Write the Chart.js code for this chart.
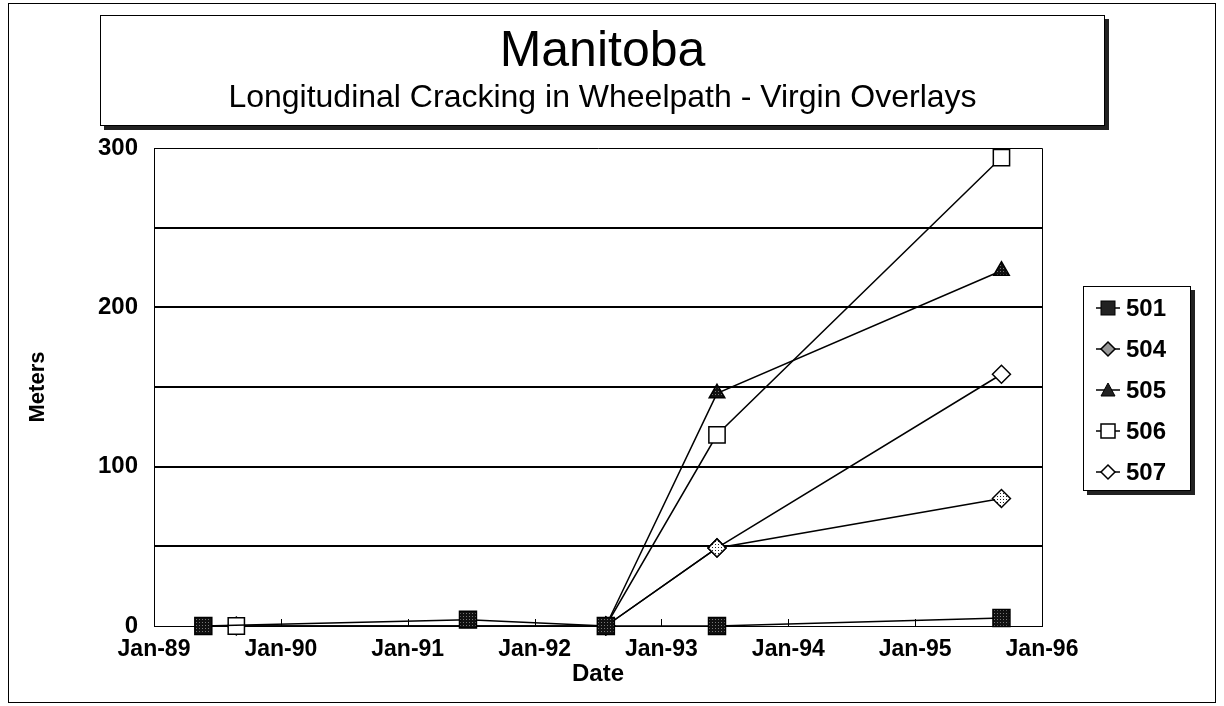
<!DOCTYPE html>
<html>
<head>
<meta charset="utf-8">
<script src="https://cdn.jsdelivr.net/npm/chart.js@4.4.1/dist/chart.umd.min.js"></script>
<style>
  body { margin: 0; background: #fff; font-family: "Liberation Sans", Arial, sans-serif; }
  #page { position: relative; width: 1224px; height: 706px; overflow: hidden; }
  #frame { position: absolute; left: 8px; top: 3px; width: 1208px; height: 700px; border: 1px solid #000; box-sizing: border-box; }
  #titlebox { position: absolute; left: 100px; top: 15px; width: 1005px; height: 111px; border: 1px solid #000;
    box-sizing: border-box; box-shadow: 4px 4px 0 #222; background: #fff; text-align: center; }
  #titlebox .t1 { position: absolute; left: 0; right: 0; top: 5px; font-size: 50px; line-height: 56px; }
  #titlebox .t2 { position: absolute; left: 0; right: 0; top: 62px; font-size: 32px; line-height: 36px; }
  #legend { position: absolute; left: 1083px; top: 286px; width: 108px; height: 205px; border: 1px solid #000;
    box-sizing: border-box; box-shadow: 4px 4px 0 #222; background: #fff; padding-top: 0; }
  #legend .row { height: 41px; display: flex; align-items: center; padding-left: 10px; font-weight: bold; font-size: 24px; }
  #legend svg { margin-right: 4px; }
  canvas { position: absolute; left: 0; top: 0; }
</style>
</head>
<body>
<div id="page">
  <div id="frame"></div>
  <canvas id="mycanvas" width="1224" height="706"></canvas>
  <div id="titlebox">
    <div class="t1">Manitoba</div>
    <div class="t2">Longitudinal Cracking in Wheelpath - Virgin Overlays</div>
  </div>
  <div id="legend"></div>
</div>
<script>
// section ids
var sections = ['501', '504', '505', '506', '507'];

// survey dates and measured meters per section
var dates501 = ['1989-05-23', '1991-06-24', '1992-07-25', '1993-06-10', '1995-09-07'];
var vals501 = [0, 4, 0, 0, 5];
var dates504 = ['1992-07-25', '1993-06-10', '1995-09-07'];
var vals504 = [0, 49, 80];
var dates505 = ['1992-07-25', '1993-06-10', '1995-09-07'];
var vals505 = [0, 146, 223];
var dates506 = ['1989-08-26', '1992-07-25', '1993-06-10', '1995-09-07'];
var vals506 = [0, 0, 120, 294];
var dates507 = ['1989-08-26', '1992-07-25', '1993-06-10', '1995-09-07'];
var vals507 = [0, 0, 49, 158];

var xTickLabels = ['Jan-89', 'Jan-90', 'Jan-91', 'Jan-92', 'Jan-93', 'Jan-94', 'Jan-95', 'Jan-96'];
var yTickLabels = ['0', '100', '200', '300'];

// years since Jan-89
function toX(s) {
  var p = s.split('-');
  var t = Date.UTC(+p[0], +p[1] - 1, +p[2]);
  return (t - Date.UTC(1989, 0, 1)) / (365.25 * 24 * 3600 * 1000);
}
function pts(d, v) {
  var out = [];
  for (var i in d) out.push({x: toX(d[i]), y: v[i]});
  return out;
}

function stipple(bg, fg) {
  var c = document.createElement('canvas');
  c.width = 3; c.height = 3;
  var g = c.getContext('2d');
  g.fillStyle = bg; g.fillRect(0, 0, 3, 3);
  g.fillStyle = fg; g.fillRect(1, 1, 1, 1);
  return g.createPattern(c, 'repeat');
}
var ctx = document.getElementById('mycanvas').getContext('2d');
var darkFill = stipple('#111', '#777');
var greyFill = stipple('#fff', '#222');

var styles = {
  '501': {style: 'rect', r: 12, fill: darkFill},
  '504': {style: 'rectRot', r: 9, fill: greyFill},
  '505': {style: 'triangle', r: 9, fill: darkFill},
  '506': {style: 'rect', r: 11.5, fill: '#fff'},
  '507': {style: 'rectRot', r: 9, fill: '#fff'}
};
var series = {
  '501': pts(dates501, vals501),
  '504': pts(dates504, vals504),
  '505': pts(dates505, vals505),
  '506': pts(dates506, vals506),
  '507': pts(dates507, vals507)
};

var datasets = [];
sections.forEach(function(s) {
  datasets.push({
    label: s,
    data: series[s],
    clip: false,
    borderColor: '#000',
    borderWidth: 1.5,
    pointStyle: styles[s].style,
    pointRadius: styles[s].r,
    pointHoverRadius: styles[s].r,
    pointBackgroundColor: styles[s].fill,
    pointBorderColor: '#000',
    pointBorderWidth: 1.5,
    tension: 0
  });
});

// plot border and small upward ticks on the date axis
var framePlugin = {
  id: 'frame',
  beforeDatasetsDraw: function(chart) {
    var a = chart.chartArea, c = chart.ctx, xs = chart.scales.x;
    c.save();
    c.strokeStyle = '#000';
    c.lineWidth = 1;
    c.beginPath();
    c.moveTo(a.right + 0.5, a.bottom);
    c.lineTo(a.right + 0.5, a.top + 0.5);
    c.lineTo(a.left, a.top + 0.5);
    c.stroke();
    c.beginPath();
    for (var i = 1; i < xTickLabels.length - 1; i++) {
      var px = Math.round(xs.getPixelForValue(i)) + 0.5;
      c.moveTo(px, a.bottom);
      c.lineTo(px, a.bottom - 7);
    }
    c.stroke();
    c.restore();
  }
};

var chart = new Chart(ctx, {
  type: 'line',
  data: {datasets: datasets},
  plugins: [framePlugin],
  options: {
    responsive: false,
    animation: false,
    devicePixelRatio: 1,
    layout: {padding: {left: 25, top: 148, right: 182, bottom: 17}},
    plugins: {legend: {display: false}, tooltip: {enabled: false}},
    scales: {
      x: {
        type: 'linear', min: 0, max: 7,
        afterFit: function(s) { s.height = 63; },
        ticks: {
          stepSize: 1, padding: 10, color: '#000', maxRotation: 0,
          font: {family: 'Liberation Sans', size: 23, weight: 'bold'},
          callback: function(v) { return xTickLabels[v]; }
        },
        grid: {drawOnChartArea: false, drawTicks: false},
        border: {color: '#000', width: 1},
        title: {display: true, text: 'Date', color: '#000', padding: 0,
          font: {family: 'Liberation Sans', size: 24, weight: 'bold'}}
      },
      y: {
        min: 0, max: 300,
        afterFit: function(s) { s.width = 129; },
        ticks: {
          stepSize: 50, padding: 16, color: '#000',
          font: {family: 'Liberation Sans', size: 24, weight: 'bold'},
          callback: function(v) { return v % 100 === 0 ? yTickLabels[v / 100] : ''; }
        },
        grid: {
          color: '#000', drawTicks: false,
          lineWidth: function(c) { return (c.tick && (c.tick.value === 0 || c.tick.value === 300)) ? 0 : 2; }
        },
        border: {color: '#000', width: 1},
        title: {display: true, text: 'Meters', color: '#000', padding: 0,
          font: {family: 'Liberation Sans', size: 22, weight: 'bold'}}
      }
    }
  }
});

// legend
var icons = {
  '501': '<rect x="7" y="2" width="14" height="14" fill="#222" stroke="#000"/>',
  '504': '<path d="M14 2 L21 9 L14 16 L7 9 Z" fill="#999" stroke="#000" stroke-width="1.5"/>',
  '505': '<path d="M14 2 L21 15 L7 15 Z" fill="#222" stroke="#000"/>',
  '506': '<rect x="7" y="2" width="14" height="14" fill="#fff" stroke="#000" stroke-width="1.5"/>',
  '507': '<path d="M14 2 L21 9 L14 16 L7 9 Z" fill="#fff" stroke="#000" stroke-width="1.5"/>'
};
var leg = document.getElementById('legend');
sections.forEach(function(s) {
  var row = document.createElement('div');
  row.className = 'row';
  row.innerHTML = '<svg width="28" height="18"><line x1="2" y1="9" x2="26" y2="9" stroke="#000" stroke-width="1.5"/>' +
    icons[s] + '</svg><span>' + s + '</span>';
  leg.appendChild(row);
});
</script>
</body>
</html>
